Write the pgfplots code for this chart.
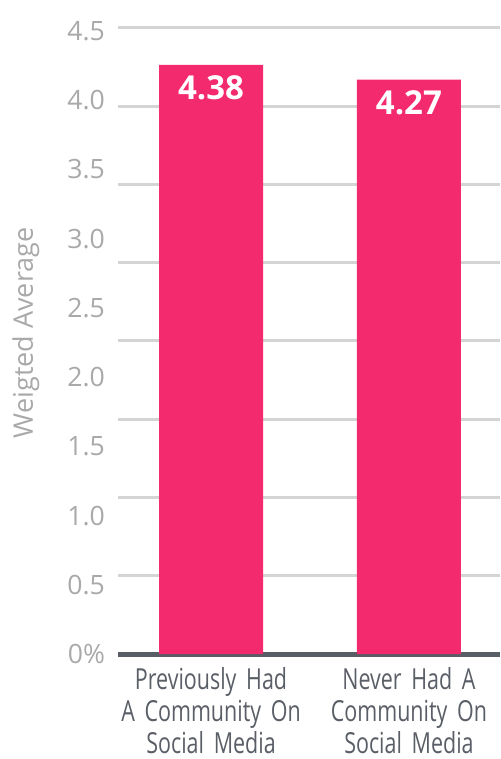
\documentclass[border=0pt]{standalone}
\usepackage{pgfplots}
\pgfplotsset{compat=1.18}
\usepackage{fontspec}
\setmainfont{Open Sans}
\newfontfamily\condensed[FakeStretch=0.74,WordSpace=0.4]{Open Sans}
\definecolor{barpink}{HTML}{F42A6E}
\definecolor{gridgray}{HTML}{D4D4D4}
\definecolor{axisdark}{HTML}{595D65}
\definecolor{ticklab}{HTML}{A9A9A9}
\definecolor{catlab}{HTML}{5A5E66}

\begin{document}
\begin{tikzpicture}
\begin{axis}[
  name=ax,
  scale only axis,
  width=191pt, height=313pt,
  xmin=-0.47, xmax=1.46,
  ymin=0, ymax=4.654,
  ybar, bar width=52pt,
  axis x line=bottom, axis y line=left,
  x axis line style={draw=axisdark, line width=2.5pt, -},
  y axis line style={draw=none},
  major tick length=0pt,
  xtick={0,1},
  xticklabels={{Previously Had\\A Community On\\Social Media},{Never Had A\\Community On\\Social Media}},
  xtick style={draw=none},
  xticklabel style={font=\condensed\fontsize{14.5}{16}\selectfont, text=catlab, align=center, text width=110pt, anchor=north, yshift=-3pt},
  ytick={0.5818,1.1635,1.7453,2.3270,2.9088,3.4905,4.0723,4.654},
  yticklabels={,,,,,,,,},
  ytick style={draw=none},
  ymajorgrids,
  major grid style={draw=gridgray, line width=1.5pt},
  extra y ticks={0,0.5145,1.029,1.5435,2.058,2.5725,3.087,3.6015,4.116,4.6305},
  extra y tick labels={0\%,0.5,1.0,1.5,2.0,2.5,3.0,3.5,4.0,4.5},
  extra y tick style={grid=none},
  yticklabel style={font=\fontsize{13.3}{16}\selectfont, text=ticklab, anchor=east, xshift=-3pt},
  ylabel={Weigted Average},
  ylabel style={at={(axis description cs:-0.241,0.513)}, anchor=center, font=\fontsize{13.5}{16}\selectfont, text=ticklab},
  nodes near coords,
  nodes near coords style={/pgf/number format/assume math mode=true, /pgf/number format/fixed, /pgf/number format/precision=2},
  every node near coord/.append style={font=\bfseries\fontsize{16.5}{19}\selectfont, text=white, anchor=center, yshift=-11.5pt},
]
\addplot[fill=barpink, draw=none] coordinates {(0,4.38) (1,4.27)};
\end{axis}
\pgfresetboundingbox
\path[use as bounding box] (ax.south west) ++(-59pt,-52.5pt) rectangle ++(250pt,379.5pt);
\end{tikzpicture}
\end{document}
